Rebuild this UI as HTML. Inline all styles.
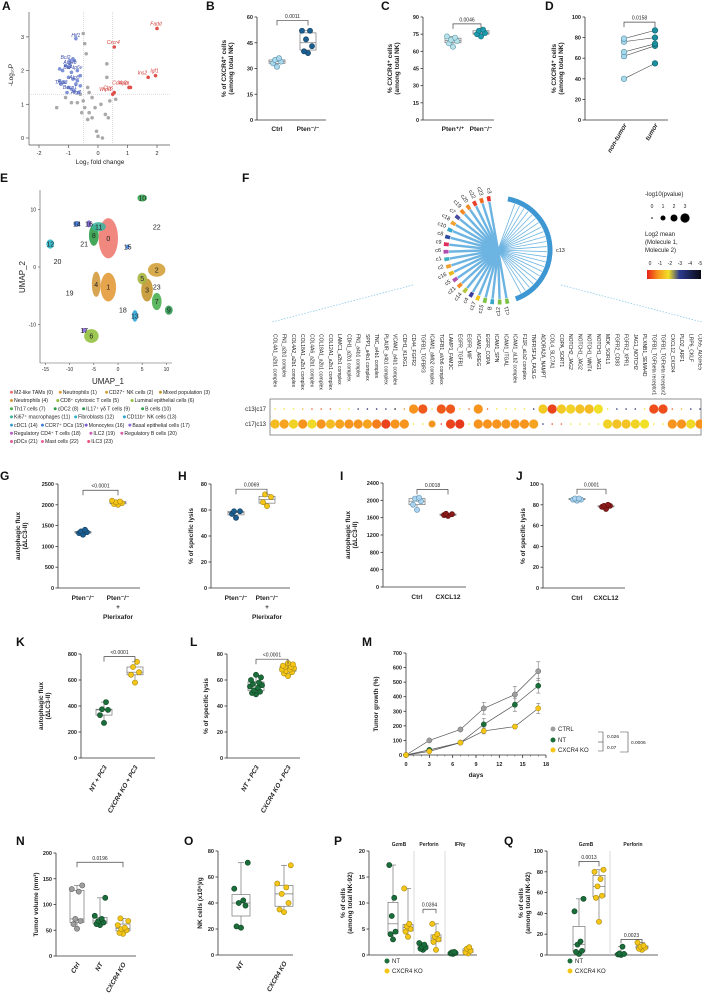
<!DOCTYPE html>
<html><head><meta charset="utf-8"><style>
html,body{margin:0;padding:0;background:#fff;}
svg{display:block;font-family:"Liberation Sans",sans-serif;}
</style></head><body>
<svg id="fig" xmlns="http://www.w3.org/2000/svg" width="702" height="994" viewBox="0 0 702 994"></svg>
<script>
// ---------- DATA ----------
const aFcBlue=[-0.75,-1.0,-0.95,-0.85,-0.8,-1.1,-1.2,-0.9,-0.7,-1.3,-1.0,-0.85,-0.7,-0.75,-1.15,-1.25,-1.0,-0.9,-0.8,-1.05,-0.6,-0.65,-1.3,-0.95,-0.6];
const aPBlue=[2.95,2.1,2.3,2.35,2.3,2.15,2.0,1.95,2.0,2.05,1.8,1.75,1.7,1.6,1.65,1.6,1.5,1.45,1.4,1.35,1.55,1.35,1.7,2.2,1.85];
const aFcRed=[2.0,0.55,1.95,1.7,1.05,1.1,0.55,0.5];
const aPRed=[3.25,2.7,1.85,1.8,1.5,1.5,1.35,1.3];
const aRedLabels=["Fadd","Cxcr4","Igf1","Ins2","App","Cdkn2a","Ctss","Wipi1"];
const aFcGray=[-0.5,-0.45,-0.4,0.3,0.3,-0.35,-0.3,-1.4,-1.1,-0.9,-0.7,-0.5,-0.45,-0.3,-0.2,-0.35,0.25,0.35,-0.05,0.0,0.15,0.4,0.6,-0.6,-0.2,-0.1,-0.55,0.1];
const aPGray=[3.1,2.8,2.5,2.2,1.8,1.5,1.35,0.9,1.2,1.05,1.05,1.1,0.9,0.75,0.6,0.55,0.7,0.6,0.2,0.05,0.0,1.1,1.15,1.3,1.2,0.9,0.75,1.0];
const bCtrl=[31,33,34,35,36];
const bPten=[39,40,43,47,52,52];
const cWT=[64,67,69,70,72,73];
const cKO=[73,75,76,78,79];
const dNonTumor=[40,62,66,76,79];
const dTumor=[55,72,74,80,87];
const gPten=[1280,1320,1340,1360,1400];
const gPlerix=[2000,2020,2040,2060,2080,2100];
const hPten=[54,57,59,59];
const hPlerix=[63,66,70,72];
const iCtrl=[1780,1900,1980,2040,2060];
const iCxcl12=[1640,1660,1680,1690];
const jCtrl=[84,85,85,86,86];
const jCxcl12=[76,78,79,79,80];
const kNT=[270,330,370,375,430];
const kKO=[580,640,660,700,740];
const lNT=[49,50,51,52,54,55,56,57,58,60,62,64];
const lKO=[63,65,66,67,68,68,69,70,70,71,72,73];
const mDays=[0,3,7,10,14,17];
const mCtrl=[0,100,175,320,415,575];
const mNT=[0,35,85,210,345,475];
const mKO=[0,25,85,165,195,320];
const mCtrlErr=[0,8,10,40,55,65];
const mNTErr=[0,8,8,40,45,50];
const mKOErr=[0,6,8,20,15,35];
const nCtrl=[53,62,68,72,125,130,137];
const nNT=[60,62,65,68,72,78,113];
const nKO=[43,45,50,52,55,60,68,73];
const oNT=[21,22,38,40,42,51,71];
const oKO=[33,35,40,47,52,55,69];
const pGzmbNT=[3,4,4.5,7.5,11,17.3];
const pGzmbKO=[3.5,4.5,5,5.5,6,12.8];
const pPerfNT=[1,1.2,1.4,1.6,2,2.3];
const pPerfKO=[1,2.5,3,3.5,4,6];
const pIfnNT=[0.2,0.3,0.4,0.5,0.6];
const pIfnKO=[0.3,0.5,0.8,1.2,1.5];
const qGzmbNT=[1,3,4,10,13,42,54];
const qGzmbKO=[32,55,57,66,73,80,82];
const qPerfNT=[0,0.5,1,1.5,8];
const qPerfKO=[5,6,7,8,9,12];
const fPairs=["COL4A1_a2b1 complex","FN1_a2b1 complex","COL4A2_a2b1 complex","COL18A1_a2b1 complex","COL4A6_a2b1 complex","COL18A1_a2b1 complex","COL12A1_a2b1 complex","LAMC1_a2b1 complex","CDH1_a2b1 complex","FN1_a4b1 complex","SPP1_a4b1 complex","TNC_a4b1 complex","PLAUR_a4b1 complex","VCAM1_a4b1 complex","CDH1_KLRG1","CD44_FGFR2","TGFB1_TGFBR3","ICAM1_aMb2 complex","TGFB1_aVb6 complex","LAMP1_FAM3C","EGFR_TGFB1","EGFR_MIF","ICAM1_AREG","EGFR_COPA","ICAM1_SPN","ICAM1_ITGAL","ICAM1_aLb2 complex","F11R_aLb2 complex","TNFRSF1A_FASLG","ADORA2A_NAMPT","COL4_SLC7A1","COPA_SORT1","NOTCH2_JAG2","NOTCH1_JAG2","NOTCH1_WNT4","NOTCH1_JAG1","MDK_SORL1","FGFR2_CD83","FGFR2_XPR1","JAG1_NOTCH2","PLXNB1_SEMA4D","TGFB1_TGFbeta receptor1","TGFB1_TGFbeta receptor2","CXCL12_CXCR4","PLD2_ARF1","LRP6_CKLF","CD55_ADGRE5"];
const fRow1P=[0,0,0,0,0,0,0,0,0,0,0,0,0,0,0,3,3,0,3,3,0,0,3,0,0,0,0,0,0,3,3,3,3,3,3,3,0,0,0,0,0,3,3,0,0,0,0];
const fRow1M=[-2,-2,-2,-1.5,-0.5,-0.5,-0.5,-2,-2,-3.5,-3.5,-3.5,-3.5,-5,-1,-1,-0.5,-2,-0.5,-0.5,-2,-0.5,-1,-0.5,-2,-2,-2,-2,-3.5,-1.7,-0.3,-1.7,-1.8,-1.6,-1.5,-2,-2,-3.5,-3.5,-3.5,-2,-0.4,-0.4,-0.5,-1.5,-3.5,-3.5];
const fRow2P=[3,3,3,3,3,3,3,3,3,3,3,3,3,3,3,0,0,2,0,3,3,0,3,3,3,3,3,3,3,0,0,0,0,0,0,0,3,3,3,3,3,0,0,3,3,3,3];
const fRow2M=[-1.5,-1.2,-1.8,-1,-1.9,-1,-1.5,-1.2,-1,-1,-1.2,-0.8,-0.3,-1,-1,-2,-2,-1,-0.3,-0.3,-0.2,-2,-1,-1,-1,-1,-1,-1,-1.2,-3.5,-0.3,-0.5,-2,-2,-2,-2,-1.8,-1.6,-1.6,-1.8,-2,-2,-2,-1,-1,-1.9,-1];
// ---------- HELPERS ----------
const NS="http://www.w3.org/2000/svg";
const svg=document.getElementById('fig');
function mk(tag,a,nm){
  const e=document.createElementNS(NS,tag);
  for(const k in a) e.setAttribute(k,a[k]);
  
  
  svg.appendChild(e);
  return e;
}
function txt(x,y,s,sz,nm,o){
  o=o||{};
  const a={x:x,y:y,'font-size':sz,fill:o.fill||'#222'};
  if(o.anchor)a['text-anchor']=o.anchor;
  if(o.bold)a['font-weight']='bold';
  if(o.italic)a['font-style']='italic';
  if(o.rot!==undefined)a.transform='rotate('+o.rot+' '+x+' '+y+')';
  const e=mk('text',a,nm);
  e.textContent=s;
  return e;
}
function line(x1,y1,x2,y2,st,w,nm,dash){
  const a={x1:x1,y1:y1,x2:x2,y2:y2,stroke:st,'stroke-width':w};
  if(dash)a['stroke-dasharray']=dash;
  return mk('line',a,nm);
}
function letter(x,y,s){ txt(x,y+10,s,12,'panel-label-'+s.toLowerCase(),{bold:true,fill:'#111'}); }
function quant(arr,q){const s=[...arr].sort((a,b)=>a-b);const p=(s.length-1)*q;const lo=Math.floor(p),hi=Math.ceil(p);return s[lo]+(s[hi]-s[lo])*(p-lo);}
const jit=[0,-4,4,-2,2,-6,6,-3,3,-5,5,0,-1,1];
function yAxis(p){
  const sc=v=>p.yb-(v-p.min)/(p.max-p.min)*(p.yb-p.yt);
  line(p.ax,p.yt,p.ax,p.yb,'#333',0.8,p.id+'-y-axis');
  p.ticks.forEach(t=>{
    line(p.ax-2.5,sc(t),p.ax,sc(t),'#333',0.8,p.id+'-y-tick');
    txt(p.ax-4,sc(t)+2,String(t),5.5,p.id+'-y-tick-label',{anchor:'end',bold:true});
  });
  if(p.xe){
    line(p.ax,p.yb,p.xe,p.yb,'#333',0.8,p.id+'-x-axis');
  }
  if(p.title){
    const mid=(p.yt+p.yb)/2;
    p.title.forEach((t,i)=>txt(p.tx+i*7,mid,t,6.5,p.id+'-y-axis-title',{anchor:'middle',bold:true,rot:-90}));
  }
  return sc;
}
function boxes(p,sc,groups,xs,fills,strokes,bw){
  groups.forEach((g,gi)=>{
    const x=xs[gi];
    const mn=Math.min(...g),mx=Math.max(...g),q1=quant(g,0.25),q3=quant(g,0.75),md=quant(g,0.5);
    line(x,sc(mx),x,sc(q3),'#777',0.7,p.id+'-whisker');
    line(x,sc(q1),x,sc(mn),'#777',0.7,p.id+'-whisker');
    line(x-3,sc(mx),x+3,sc(mx),'#777',0.7,p.id+'-whisker-cap');
    line(x-3,sc(mn),x+3,sc(mn),'#777',0.7,p.id+'-whisker-cap');
    mk('rect',{x:x-bw/2,y:sc(q3),width:bw,height:Math.max(0.5,sc(q1)-sc(q3)),fill:'none',stroke:'#777','stroke-width':0.7},p.id+'-box');
    line(x-bw/2,sc(md),x+bw/2,sc(md),'#777',0.7,p.id+'-median');
    g.forEach((v,i)=>{
      mk('circle',{cx:x+jit[i%jit.length]*(bw/16),cy:sc(v),r:2.6,fill:fills[gi],stroke:strokes[gi],'stroke-width':0.6},p.id+'-point');
    });
  });
}
function bracket(x1,x2,y,h,label,nm){
  mk('path',{d:'M'+x1+' '+(y+h)+'V'+y+'H'+x2+'V'+(y+h),fill:'none',stroke:'#444','stroke-width':0.7},nm);
  txt((x1+x2)/2,y-2.5,label,5,nm+'-label',{anchor:'middle'});
}
function catLabels(xs,labels,y,id,rot){
  xs.forEach((x,i)=>{
    if(rot) txt(x+3,y,labels[i],6.5,id+'-x-label',{anchor:'end',bold:true,italic:true,rot:-60});
    else txt(x,y,labels[i],6.5,id+'-x-label',{anchor:'middle',bold:true});
  });
}
// ---------- A: volcano ----------
letter(2,0,'A');
(function(){
  const xs=v=>98+v*29.5, ys=v=>138-v*33.7;
  line(29,12,29,145,'#555',0.7,'a-y-axis');
  line(29,145,170,145,'#555',0.7,'a-x-axis');
  [0,1,2,3].forEach(t=>{line(26,ys(t),29,ys(t),'#555',0.7,'a-y-tick');txt(24,ys(t)+2,String(t),5.5,'a-y-tick-label',{anchor:'end'});});
  [-2,-1,0,1,2].forEach(t=>{line(xs(t),145,xs(t),148,'#555',0.7,'a-x-tick');txt(xs(t),155,String(t),5.5,'a-x-tick-label',{anchor:'middle'});});
  line(29,ys(1.3),170,ys(1.3),'#bbb',0.5,'a-threshold-p','1,1');
  line(xs(-0.5),12,xs(-0.5),145,'#bbb',0.5,'a-threshold-fc-neg','1,1');
  line(xs(0.5),12,xs(0.5),145,'#bbb',0.5,'a-threshold-fc-pos','1,1');
  txt(100,164,'Log₂ fold change',6.5,'a-x-axis-title',{anchor:'middle'});
  txt(13,75,'-Log₁₀P',6.5,'a-y-axis-title',{anchor:'middle',rot:-90});
  aFcGray.forEach((v,i)=>mk('circle',{cx:xs(v),cy:ys(aPGray[i]),r:1.8,fill:'#a9a9a9'},'a-point-ns'));
  aFcBlue.forEach((v,i)=>mk('circle',{cx:xs(v),cy:ys(aPBlue[i]),r:1.8,fill:'#7f93d6'},'a-point-down'));
  aFcRed.forEach((v,i)=>mk('circle',{cx:xs(v),cy:ys(aPRed[i]),r:1.8,fill:'#e0504a'},'a-point-up'));
  aRedLabels.forEach((s,i)=>txt(xs(aFcRed[i])-1,ys(aPRed[i])-3,s,5,'a-gene-label-up',{anchor:i>=3?'end':'middle',fill:'#d23a33',italic:true}));
  const bl=[["Hif1",-0.75,3.0],["Bcl2",-1.1,2.35],["Atg4b",-0.95,2.2],["Bid",-1.05,2.05],["Atp6v",-0.75,2.05],["Atg5",-0.8,1.75],["Trp53",-1.25,1.6],["Becn1",-0.95,1.45],["Atg7",-0.75,1.3]];
  bl.forEach(b=>txt(xs(b[1]),ys(b[2]),b[0],5,'a-gene-label-down',{anchor:'middle',fill:'#3a4aa8',italic:true}));
})();
// ---------- B ----------
letter(206,0,'B');
(function(){const p={id:'b',ax:257,yt:17,yb:120,min:0,max:60,ticks:[0,15,30,45,60],xe:326,title:['% of CXCR4⁺ cells','(among total NK)'],tx:226};
 const sc=yAxis(p);boxes(p,sc,[bCtrl,bPten],[277,308],['#a9d8ec','#1b5e8f'],['#5a8fa8','#123f60'],16);
 bracket(277,308,sc(58),5,'0.0011','b-significance');catLabels([277,308],['Ctrl','Pten⁻/⁻'],131,'b');})();
// ---------- C ----------
letter(381,0,'C');
(function(){const p={id:'c',ax:423,yt:17,yb:120,min:0,max:90,ticks:[0,15,30,45,60,75,90],xe:494,title:['% CXCR4⁺ cells','(among total NK)'],tx:392};
 const sc=yAxis(p);boxes(p,sc,[cWT,cKO],[453,481],['#b7e2ea','#1c9cad'],['#5e9aa8','#136b78'],16);
 bracket(453,481,sc(84),5,'0.0046','c-significance');catLabels([453,481],['Pten⁺/⁺','Pten⁻/⁻'],131,'c');})();
// ---------- D ----------
letter(545,0,'D');
(function(){const p={id:'d',ax:585,yt:17,yb:120,min:0,max:100,ticks:[0,20,40,60,80,100],xe:668,title:['% CXCR4⁺ cells','(among total NK)'],tx:556};
 const sc=yAxis(p);
 dNonTumor.forEach((v,i)=>{line(624,sc(v),655,sc(dTumor[i]),'#444',0.6,'d-pair-line');});
 dNonTumor.forEach(v=>mk('circle',{cx:624,cy:sc(v),r:2.8,fill:'#a9d8ec',stroke:'#4d8aa0','stroke-width':0.6},'d-point-non-tumor'));
 dTumor.forEach(v=>mk('circle',{cx:655,cy:sc(v),r:2.8,fill:'#1b8f9e',stroke:'#0f5f6a','stroke-width':0.6},'d-point-tumor'));
 bracket(624,655,sc(95),5,'0.0158','d-significance');catLabels([624,655],['non-tumor','tumor'],125,'d',true);})();
// ---------- E: UMAP ----------
letter(0,172,'E');
(function(){
  const ux=u=>118+u*4.84, uy=v=>267-v*5.75;
  line(40,190,40,363,'#555',0.6,'e-y-axis');line(40,363,172,363,'#555',0.6,'e-x-axis');
  [-15,-10,-5,0,5,10].forEach(t=>{line(ux(t),363,ux(t),365,'#555',0.6,'e-x-tick');txt(ux(t),371,String(t),5,'e-x-tick-label',{anchor:'middle'});});
  [-10,0,10].forEach(t=>{line(38,uy(t),40,uy(t),'#555',0.6,'e-y-tick');txt(36,uy(t)+2,String(t),5,'e-y-tick-label',{anchor:'end'});});
  txt(108,384,'UMAP_1',8,'e-x-axis-title',{anchor:'middle'});
  txt(25,277,'UMAP_2',8,'e-y-axis-title',{anchor:'middle',rot:-90});
  const cl=[[0,-2,5,'#ee7b72',2,3.5],[1,-2,-3.5,'#e39a3a',1.6,2.5],[2,8,-0.5,'#d3a13b',1.8,1.2],[3,6,-4,'#c4962f',1.2,2],[4,-4.5,-3,'#d39b3e',0.9,2.2],[5,5,-2,'#a8b540',1,1],[6,-5.5,-12,'#93c040',1.5,1.2],[7,8,-6,'#4caf50',1,1.5],[8,-5,5.5,'#2f9e48',1,1.8],[9,10.5,-7.5,'#2f9a52',0.8,0.8],[10,5,12,'#36a853',1,0.6],[11,-4,7,'#3fb39c',1.5,0.8],[12,-14,4,'#2ab7c8',0.8,0.8],[13,3.5,-8.5,'#2aa5d6',0.6,1],[14,-8.5,7.5,'#3b6fd0',0.7,0.5],[15,2,3.5,'#3f7fd8',0.4,0.4],[16,-6,7.5,'#7a5bd0',0.5,0.6],[17,-7,-11,'#8a6bd8',0.5,0.4],[18,1,-7.5,'#b55fc2',0,0],[19,-10,-4.5,'#c95fb3',0,0],[20,-12.5,1,'#d65fa5',0,0],[21,-7,4,'#e0609a',0,0],[22,8,7,'#e8609a',0,0],[23,8,-3.5,'#ef4f78',0,0]];
  cl.forEach(c=>{ if(c[4]>0) mk('ellipse',{cx:ux(c[1]),cy:uy(c[2]),rx:c[4]*4.84,ry:c[5]*5.75,fill:c[3],opacity:0.9},'e-cluster-'+c[0]);
    txt(ux(c[1]),uy(c[2])+2.5,String(c[0]),7,'e-cluster-label',{anchor:'middle'}); });
  const lg=[[['#e96f6f','M2-like TAMs (0)'],['#e39a3a','Neutrophils (1)'],['#d3a13b','CD27⁺ NK cells (2)'],['#c4962f','Mixed population (3)']],
   [['#d39b3e','Neutrophils (4)'],['#8bbf3c','CD8⁺ cytotoxic T cells (5)'],['#93c040','Luminal epithelial cells (6)']],
   [['#4caf50','Th17 cells (7)'],['#2f9e48','cDC2 (8)'],['#2f9a52','IL17⁺ γδ T cells (9)'],['#36a853','B cells (10)']],
   [['#3fb39c','Ki67⁺ macrophages (11)'],['#2ab7c8','Fibroblasts (12)'],['#2aa5d6','CD11b⁺ NK cells (13)']],
   [['#3b9fd0','cDC1 (14)'],['#3f7fd8','CCR7⁺ DCs (15)'],['#7a5bd0','Monocytes (16)'],['#8a6bd8','Basal epithelial cells (17)']],
   [['#b55fc2','Regulatory CD4⁺ T cells (18)'],['#c95fb3','ILC2 (19)'],['#d65fa5','Regulatory B cells (20)']],
   [['#e0609a','pDCs (21)'],['#e8609a','Mast cells (22)'],['#ef4f78','ILC3 (23)']]];
  lg.forEach((row,ri)=>{let x=10;const y=394+ri*8.2;row.forEach(it=>{mk('circle',{cx:x+1.5,cy:y-1.7,r:1.5,fill:it[0]},'e-legend-marker');
    txt(x+4,y,it[1],5.2,'e-legend-entry');x+=5+it[1].length*2.55+3;});});
})();
// ---------- F: chord + dot plot ----------
letter(242,172,'F');
(function(){
  const cx=498,cy=250,R=52;
  const pt=(deg,r)=>[cx+r*Math.sin(deg*Math.PI/180),cy-r*Math.cos(deg*Math.PI/180)];
  const segs=[['c11','#7cc242'],['c12','#7cc242'],['B','#3aa6c9'],['c15','#7cc242'],['c17','#f0c419'],['c4','#3b3b9a'],['c14','#b8c43a'],['c21','#f08a24'],['c5','#b04fb0'],['c16','#e8b820'],['c2','#f0a030'],['c1','#3ab0c0'],['c6','#b04fb0'],['c9','#e0305a'],['c8','#2e4aa0'],['c10','#3aa6c9'],['c18','#f0a030'],['c7','#4a4aa0'],['c19','#f08a24'],['c20','#f08a24'],['c22','#e8402a'],['c23','#f06a20'],['c3','#e8302a']];
  const step=188/segs.length;
  segs.forEach((s,i)=>{const a=168+i*step;
    const [x1,y1]=pt(a+2,R-3);line(x1,y1,cx,cy,'#6db4e2',2.4,'f-chord-link');});
  for(let a=20;a<=155;a+=6){const [x1,y1]=pt(a,R-3);line(x1,y1,cx,cy,'#6db4e2',0.8,'f-chord-link');}
  const [ax1,ay1]=pt(11,R),[ax2,ay2]=pt(160,R);
  mk('path',{d:'M'+ax1+' '+ay1+' A'+R+' '+R+' 0 0 1 '+ax2+' '+ay2,fill:'none',stroke:'#3d97d3','stroke-width':5},'f-chord-segment-c13');
  txt(cx+R+6,cy+2,'c13',5.5,'f-chord-label-c13');
  segs.forEach((s,i)=>{const a=168+i*step;const a2=a+4;
    const [x1,y1]=pt(a,R),[x2,y2]=pt(a2,R);
    mk('path',{d:'M'+x1+' '+y1+' A'+R+' '+R+' 0 0 1 '+x2+' '+y2,fill:'none',stroke:s[1],'stroke-width':5},'f-chord-segment-'+s[0]);
    const [lx,ly]=pt(a+2,R+5);txt(lx,ly,s[0],5.5,'f-chord-label-'+s[0],{anchor:'end',rot:(a+2+90)%360});});
  line(413,285,272,322,'#7fc3e8',0.7,'f-zoom-line-left','1.5,1.5');
  line(561,285,702,322,'#7fc3e8',0.7,'f-zoom-line-right','1.5,1.5');
  const colX=i=>275+i*(700-275)/(fPairs.length-1);
  fPairs.forEach((s,i)=>txt(colX(i)-1.5,334,s,5,'f-pair-label',{rot:90}));
  mk('rect',{x:270,y:399,width:431,height:36,fill:'none',stroke:'#777','stroke-width':0.8},'f-dotplot-frame');
  txt(266,411,'c13|c17',6,'f-row-label',{anchor:'end'});
  txt(266,426,'c17|c13',6,'f-row-label',{anchor:'end'});
  const col=m=>{const st=[[0,[230,32,26]],[-1,[247,148,29]],[-2,[240,225,40]],[-3,[43,58,143]],[-5,[10,10,20]]];
    for(let k=0;k<st.length-1;k++){if(m<=st[k][0]&&m>=st[k+1][0]){const t=(st[k][0]-m)/(st[k][0]-st[k+1][0]);const c=st[k][1].map((v,j)=>Math.round(v+(st[k+1][1][j]-v)*t));return 'rgb('+c.join(',')+')';}}return '#000';};
  const rad=p=>[0.8,2.5,3.5,4.6][p];
  fRow1P.forEach((p,i)=>mk('circle',{cx:colX(i),cy:409,r:rad(p),fill:col(fRow1M[i])},'f-dot-c13-c17'));
  fRow2P.forEach((p,i)=>mk('circle',{cx:colX(i),cy:424,r:rad(p),fill:col(fRow2M[i])},'f-dot-c17-c13'));
  txt(645,196,'-log10(pvalue)',6,'f-legend-size-title');
  [0,1,2,3].forEach((v,i)=>{txt(652+i*11,208,String(v),5,'f-legend-size-label',{anchor:'middle'});mk('circle',{cx:652+i*11,cy:218,r:rad(v),fill:'#000'},'f-legend-size-dot');});
  txt(645,236,'Log2 mean',6,'f-legend-color-title');txt(645,244,'(Molecule 1,',6,'f-legend-color-title');txt(645,252,'Molecule 2)',6,'f-legend-color-title');
  const gd=mk('linearGradient',{id:'cbar',x1:'0',x2:'1',y1:'0',y2:'0'},'f-colorbar-gradient');
  [['0','#e8201a'],['0.2','#f7941d'],['0.4','#f0e128'],['0.6','#2b3a8f'],['1','#0a0a14']].forEach(s=>{const st=document.createElementNS(NS,'stop');st.setAttribute('offset',s[0]);st.setAttribute('stop-color',s[1]);gd.appendChild(st);});
  mk('rect',{x:647,y:270,width:54,height:9,fill:'url(#cbar)'},'f-colorbar');
  ['0','-1','-2','-3','-4','-5'].forEach((s,i)=>txt(650+i*10,265,s,5,'f-colorbar-label',{anchor:'middle'}));
})();
// ---------- G-J ----------
letter(0,470,'G');letter(178,470,'H');letter(340,470,'I');letter(516,470,'J');
(function(){const p={id:'g',ax:58,yt:484,yb:588,min:0,max:2500,ticks:[0,500,1000,1500,2000,2500],xe:140,title:['autophagic flux','(ΔLC3-II)'],tx:20};
 const sc=yAxis(p);boxes(p,sc,[gPten,gPlerix],[83,118],['#1b5e8f','#f5c518'],['#123f60','#a88a10'],16);
 bracket(83,118,sc(2350),5,'<0.0001','g-significance');catLabels([83,118],['Pten⁻/⁻','Pten⁻/⁻'],600,'g');
 txt(118,609,'+',6.5,'g-x-label',{anchor:'middle',bold:true});txt(118,619,'Plerixafor',6.5,'g-x-label',{anchor:'middle',bold:true});})();
(function(){const p={id:'h',ax:211,yt:484,yb:588,min:0,max:80,ticks:[0,20,40,60,80],xe:290,title:['% of specific lysis'],tx:193};
 const sc=yAxis(p);boxes(p,sc,[hPten,hPlerix],[236,267],['#1b5e8f','#f5c518'],['#123f60','#a88a10'],16);
 bracket(236,267,sc(76),5,'0.0069','h-significance');catLabels([236,267],['Pten⁻/⁻','Pten⁻/⁻'],600,'h');
 txt(267,609,'+',6.5,'h-x-label',{anchor:'middle',bold:true});txt(267,619,'Plerixafor',6.5,'h-x-label',{anchor:'middle',bold:true});})();
(function(){const p={id:'i',ax:383,yt:483,yb:587,min:0,max:2400,ticks:[0,400,800,1200,1600,2000,2400],xe:466,title:['autophagic flux','(ΔLC3-II)'],tx:350};
 const sc=yAxis(p);boxes(p,sc,[iCtrl,iCxcl12],[417,448],['#a9d3ef','#8b1a1a'],['#5f8fae','#5a0f0f'],16);
 bracket(417,448,sc(2250),5,'0.0018','i-significance');catLabels([417,448],['Ctrl','CXCL12'],599,'i');})();
(function(){const p={id:'j',ax:543,yt:484,yb:588,min:0,max:100,ticks:[0,20,40,60,80,100],xe:625,title:['% of specific lysis'],tx:525};
 const sc=yAxis(p);boxes(p,sc,[jCtrl,jCxcl12],[577,606],['#a9d3ef','#8b1a1a'],['#5f8fae','#5a0f0f'],16);
 bracket(577,606,sc(95),5,'0.0001','j-significance');catLabels([577,606],['Ctrl','CXCL12'],600,'j');})();
// ---------- K-M ----------
letter(16,636,'K');letter(190,636,'L');letter(362,636,'M');
(function(){const p={id:'k',ax:81,yt:654,yb:758,min:0,max:800,ticks:[0,200,400,600,800],xe:155,title:['autophagic flux','(ΔLC3-II)'],tx:43};
 const sc=yAxis(p);boxes(p,sc,[kNT,kKO],[104,135],['#1b6e3a','#f5c518'],['#0f4424','#a88a10'],16);
 bracket(104,135,sc(780),5,'<0.0001','k-significance');catLabels([104,135],['NT + PC3','CXCR4 KO + PC3'],767,'k',true);})();
(function(){const p={id:'l',ax:227,yt:654,yb:758,min:0,max:80,ticks:[0,20,40,60,80],xe:300,title:['% of specific lysis'],tx:208};
 const sc=yAxis(p);boxes(p,sc,[lNT,lKO],[256,288],['#1b6e3a','#f5c518'],['#0f4424','#a88a10'],16);
 bracket(256,288,sc(76),5,'<0.0001','l-significance');catLabels([256,288],['NT + PC3','CXCR4 KO + PC3'],767,'l',true);})();
(function(){const p={id:'m',ax:406,yt:653,yb:755,min:0,max:700,ticks:[0,100,200,300,400,500,600,700],title:['Tumor growth (%)'],tx:378};
 const sc=yAxis(p);const xs=d=>406+d*(546-406)/18;
 line(406,755,546,755,'#333',0.8,'m-x-axis');
 [0,3,6,9,12,15,18].forEach(t=>{line(xs(t),755,xs(t),758,'#333',0.8,'m-x-tick');txt(xs(t),766,String(t),5.5,'m-x-tick-label',{anchor:'middle',bold:true});});
 for(let t=1;t<18;t++) line(xs(t),755,xs(t),756.5,'#333',0.5,'m-x-minor-tick');
 txt(476,777,'days',6.5,'m-x-axis-title',{anchor:'middle',bold:true});
 const ser=[[mCtrl,mCtrlErr,'#9e9e9e','#666','ctrl'],[mNT,mNTErr,'#1b6e3a','#0f4424','nt'],[mKO,mKOErr,'#f5c518','#a88a10','ko']];
 ser.forEach(s=>{mk('polyline',{points:mDays.map((d,i)=>xs(d)+','+sc(s[0][i])).join(' '),fill:'none',stroke:'#555','stroke-width':0.7},'m-line-'+s[4]);
   mDays.forEach((d,i)=>{if(s[1][i]>0){line(xs(d),sc(s[0][i]+s[1][i]),xs(d),sc(s[0][i]-s[1][i]),'#777',0.6,'m-error-bar');line(xs(d)-2,sc(s[0][i]+s[1][i]),xs(d)+2,sc(s[0][i]+s[1][i]),'#777',0.6,'m-error-cap');line(xs(d)-2,sc(s[0][i]-s[1][i]),xs(d)+2,sc(s[0][i]-s[1][i]),'#777',0.6,'m-error-cap');}});
   mDays.forEach((d,i)=>mk('circle',{cx:xs(d),cy:sc(s[0][i]),r:2.6,fill:s[2],stroke:s[3],'stroke-width':0.5},'m-point-'+s[4]));});
 [['CTRL','#9e9e9e',731],['NT','#1b6e3a',742],['CXCR4 KO','#f5c518',752]].forEach(l=>{mk('circle',{cx:553,cy:l[2]-2,r:2.5,fill:l[1]},'m-legend-marker');txt(558,l[2],l[0],6,'m-legend-entry');});
 mk('path',{d:'M598 732H603V751H598',fill:'none',stroke:'#444','stroke-width':0.6},'m-bracket-inner');line(598,742,603,742,'#444',0.6,'m-bracket-inner');
 txt(607,738,'0.026',4.8,'m-pvalue');txt(607,749,'0.07',4.8,'m-pvalue');
 mk('path',{d:'M620 732H628V752H620',fill:'none',stroke:'#444','stroke-width':0.6},'m-bracket-outer');txt(631,744,'0.0006',4.8,'m-pvalue');})();
// ---------- N-Q ----------
letter(16,835,'N');letter(184,835,'O');letter(334,835,'P');letter(504,835,'Q');
(function(){const p={id:'n',ax:56,yt:853,yb:956,min:0,max:200,ticks:[0,50,100,150,200],xe:136,title:['Tumor volume (mm³)'],tx:38};
 const sc=yAxis(p);boxes(p,sc,[nCtrl,nNT,nKO],[77,100,123],['#9e9e9e','#1b6e3a','#f5c518'],['#666','#0f4424','#a88a10'],14);
 bracket(77,123,sc(182),5,'0.0196','n-significance');catLabels([77,100,123],['Ctrl','NT','CXCR4 KO'],964,'n',true);})();
(function(){const p={id:'o',ax:218,yt:851,yb:955,min:0,max:80,ticks:[0,20,40,60,80],xe:293,title:['NK cells (x10⁶)/g'],tx:202};
 const sc=yAxis(p);boxes(p,sc,[oNT,oKO],[241,284],['#1b6e3a','#f5c518'],['#0f4424','#a88a10'],18);
 catLabels([241,284],['NT','CXCR4 KO'],963,'o',true);})();
(function(){const p={id:'p',ax:369,yt:851,yb:955,min:0,max:20,ticks:[0,5,10,15,20],xe:477,title:['% of cells','(among total NK-92)'],tx:345};
 const sc=yAxis(p);line(414,851,414,955,'#ccc',0.7,'p-divider');line(445,851,445,955,'#ccc',0.7,'p-divider');
 boxes(p,sc,[pGzmbNT,pGzmbKO,pPerfNT,pPerfKO,pIfnNT,pIfnKO],[393,408,423,436,453,468],['#1b6e3a','#f5c518','#1b6e3a','#f5c518','#1b6e3a','#f5c518'],['#0f4424','#a88a10','#0f4424','#a88a10','#0f4424','#a88a10'],10);
 txt(399,846,'GzmB',5,'p-group-header',{anchor:'middle',bold:true});txt(429,846,'Perforin',5,'p-group-header',{anchor:'middle',bold:true});txt(460,846,'IFNγ',5,'p-group-header',{anchor:'middle',bold:true});
 bracket(423,436,sc(8.8),4,'0.0394','p-significance');
 [['NT','#1b6e3a',963],['CXCR4 KO','#f5c518',973]].forEach(l=>{mk('circle',{cx:387,cy:l[2]-2,r:2.5,fill:l[1]},'p-legend-marker');txt(392,l[2],l[0],6,'p-legend-entry');});})();
(function(){const p={id:'q',ax:547,yt:851,yb:955,min:0,max:100,ticks:[0,20,40,60,80,100],xe:658,title:['% of cells','(among total NK-92)'],tx:523};
 const sc=yAxis(p);line(610,851,610,955,'#ccc',0.7,'q-divider');
 boxes(p,sc,[qGzmbNT,qGzmbKO,qPerfNT,qPerfKO],[579,599,621,642],['#1b6e3a','#f5c518','#1b6e3a','#f5c518'],['#0f4424','#a88a10','#0f4424','#a88a10'],12);
 txt(586,846,'GzmB',5,'q-group-header',{anchor:'middle',bold:true});txt(633,846,'Perforin',5,'q-group-header',{anchor:'middle',bold:true});
 bracket(579,599,sc(90),5,'0.0013','q-significance');bracket(621,642,sc(15),4,'0.0023','q-significance-perforin');
 [['NT','#1b6e3a',963],['CXCR4 KO','#f5c518',973]].forEach(l=>{mk('circle',{cx:570,cy:l[2]-2,r:2.5,fill:l[1]},'q-legend-marker');txt(575,l[2],l[0],6,'q-legend-entry');});})();
</script>
</body></html>
